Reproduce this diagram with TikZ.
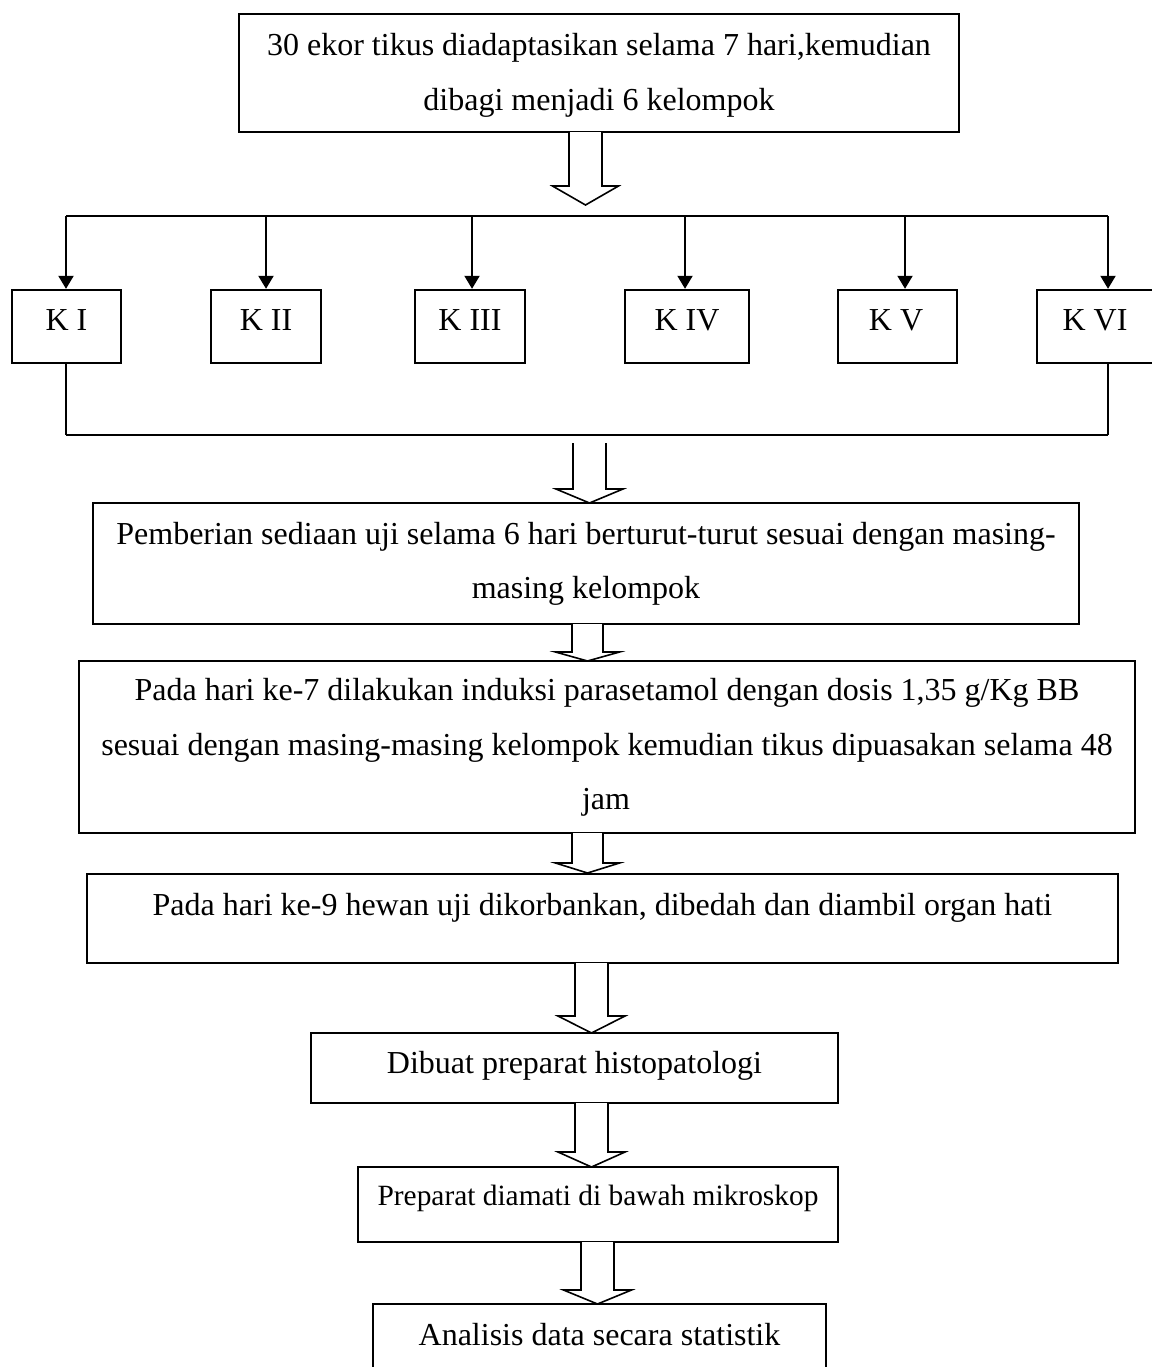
\documentclass[tikz,border=0pt]{standalone}
\usepackage{fontspec}
\setmainfont{Liberation Serif}
\usetikzlibrary{arrows.meta,calc,fit}
\begin{document}
\begin{tikzpicture}[x=0.5pt,y=-0.5pt,
  box/.style={draw,line width=1.2pt,inner sep=0pt,rectangle},
  txt/.style={inner sep=0pt,anchor=base,font=\fontsize{16}{19}\selectfont},
  smalltxt/.style={inner sep=0pt,anchor=base,font=\fontsize{14.7}{17}\selectfont},
  harrow/.style={draw,line width=0.8pt,fill=white,line join=miter},
  conn/.style={line width=1pt},
  thinconn/.style={line width=0.75pt},
  karrow/.style={line width=1pt,-{Triangle[length=6.5pt,width=7.5pt]}}]
\useasboundingbox (0,0) rectangle (1152,1367);
\newcommand\hollowarrow[6]{% start, tip, headlength, halfshaft, halfhead
  \draw[harrow] ($(#1)+(-#4,0)$) -- ($(#2)+(-#4,-#3)$) -- ($(#2)+(-#5,-#3)$) -- (#2)
     -- ($(#2)+(#5,-#3)$) -- ($(#2)+(#4,-#3)$) -- ($(#1)+(#4,0)$);}
% top box
\node[box,fit={(239,14) (959,132)}] (b1) {};
\node[txt] (t1a) at (599,55) {30 ekor tikus diadaptasikan selama 7 hari,kemudian};
\node[txt] (t1b) at (599,110) {dibagi menjadi 6 kelompok};
% arrow 1
\coordinate (a1s) at (585.5,132); \coordinate (a1t) at (585.5,205);
\hollowarrow{a1s}{a1t}{19}{16.5}{33}{}
% K boxes
\node[box,fit={(12,290) (121,363)}] (k1) {};
\node[box,fit={(211,290) (321,363)}] (k2) {};
\node[box,fit={(415,290) (525,363)}] (k3) {};
\node[box,fit={(625,290) (749,363)}] (k4) {};
\node[box,fit={(838,290) (957,363)}] (k5) {};
\node[box,fit={(1037,290) (1180,363)}] (k6) {};
\node[txt] (l1) at (66.5,330) {K I};
\node[txt] (l2) at (266,330) {K II};
\node[txt] (l3) at (470,330) {K III};
\node[txt] (l4) at (687,330) {K IV};
\node[txt] (l5) at (896,330) {K V};
\node[txt] (l6) at (1095,330) {K VI};
% distribution bar
\coordinate (s1) at (66,216); \coordinate (s2) at (266,216); \coordinate (s3) at (472,216);
\coordinate (s4) at (685,216); \coordinate (s5) at (905,216); \coordinate (s6) at (1108,216);
\draw[conn] (s1) -- (s6);
\draw[karrow] (s1) -- (s1 |- k1.north);
\draw[karrow] (s2) -- (s2 |- k2.north);
\draw[karrow] (s3) -- (s3 |- k3.north);
\draw[karrow] (s4) -- (s4 |- k4.north);
\draw[karrow] (s5) -- (s5 |- k5.north);
\draw[karrow] (s6) -- (s6 |- k6.north);
% collecting bar
\coordinate (c1) at (66,435); \coordinate (c6) at (1108,435);
\draw[thinconn] (c1 |- k1.south) -- (c1);
\draw[thinconn] (c6 |- k6.south) -- (c6);
\draw[conn] (c1) -- (c6);
% arrow 2
\node[box,fit={(93,503) (1079,624)}] (b3) {};
\coordinate (a2s) at (589.5,443); \coordinate (a2t) at (589.5,503);
\hollowarrow{a2s}{a2t}{14}{16.5}{33.5}{}
\node[txt] (t3a) at (586,544) {Pemberian sediaan uji selama 6 hari berturut-turut sesuai dengan masing-};
\node[txt] (t3b) at (586,598) {masing kelompok};
% box 4
\node[box,fit={(79,661) (1135,833)}] (b4) {};
\coordinate (a3s) at (587.5,624); \coordinate (a3t) at (587.5,661);
\hollowarrow{a3s}{a3t}{9}{15.5}{32}{}
\node[txt] (t4a) at (607,700) {Pada hari ke-7 dilakukan induksi parasetamol dengan dosis 1,35 g/Kg BB};
\node[txt] (t4b) at (607,755) {sesuai dengan masing-masing kelompok kemudian tikus dipuasakan selama 48};
\node[txt] (t4c) at (606,809) {jam};
% box 5
\node[box,fit={(87,874) (1118,963)}] (b5) {};
\coordinate (a4s) at (587.5,833); \coordinate (a4t) at (587.5,873);
\hollowarrow{a4s}{a4t}{10}{15.5}{32}{}
\node[txt] (t5) at (602.5,915) {Pada hari ke-9 hewan uji dikorbankan, dibedah dan diambil organ hati};
% box 6
\node[box,fit={(311,1033) (838,1103)}] (b6) {};
\coordinate (a5s) at (591.5,963); \coordinate (a5t) at (591.5,1033);
\hollowarrow{a5s}{a5t}{17}{16.5}{33.5}{}
\node[txt] (t6) at (574.5,1073) {Dibuat preparat histopatologi};
% box 7
\node[box,fit={(358,1167) (838,1242)}] (b7) {};
\coordinate (a6s) at (591.5,1103); \coordinate (a6t) at (591.5,1167);
\hollowarrow{a6s}{a6t}{15}{16.5}{33.5}{}
\node[smalltxt] (t7) at (598,1205) {Preparat diamati di bawah mikroskop};
% box 8
\node[box,fit={(373,1304) (826,1420)}] (b8) {};
\coordinate (a7s) at (597.5,1242); \coordinate (a7t) at (597.5,1304);
\hollowarrow{a7s}{a7t}{14}{16.5}{34}{}
\node[txt] (t8) at (599.5,1345) {Analisis data secara statistik};
\end{tikzpicture}
\end{document}
